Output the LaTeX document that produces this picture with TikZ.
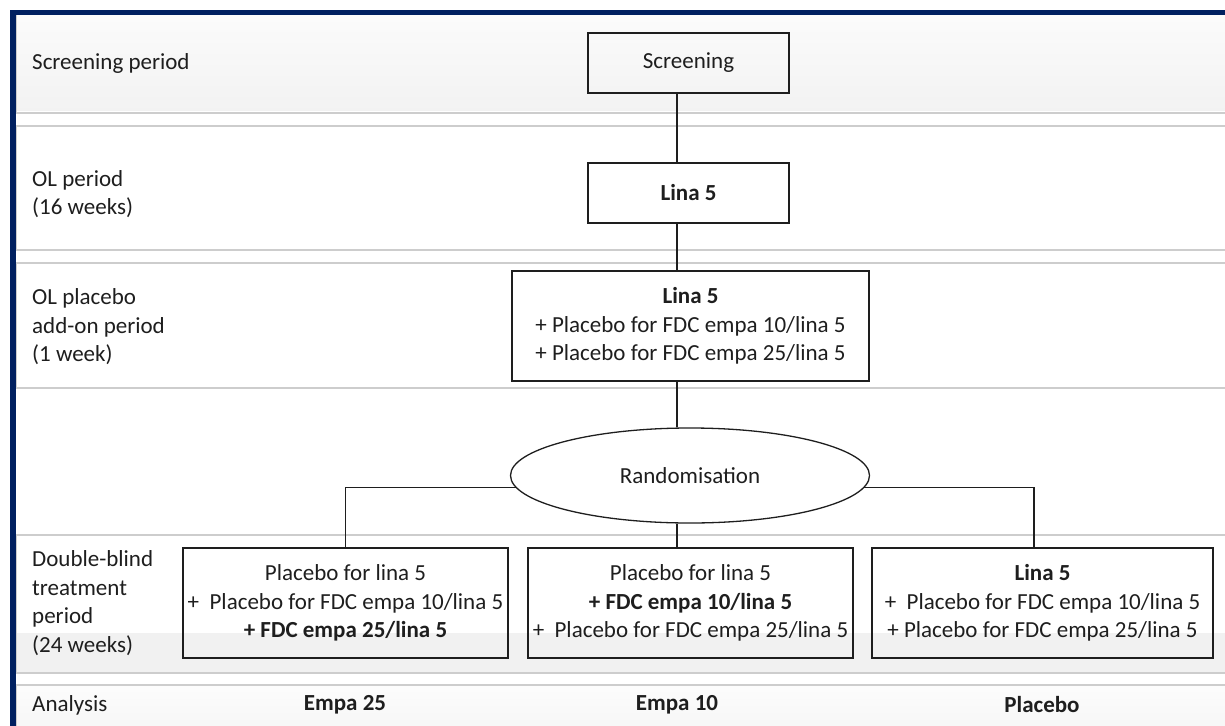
\documentclass[tikz,border=0pt]{standalone}
\usepackage{fontspec}
\setmainfont{Carlito}
\usetikzlibrary{shapes.geometric}
\definecolor{navy}{RGB}{0,32,96}
\definecolor{bandline}{RGB}{205,205,205}
\definecolor{ink}{RGB}{30,30,30}
\begin{document}
\begin{tikzpicture}[x=1pt,y=-1pt,
  every node/.style={font=\fontsize{23}{28.5}\selectfont, text=ink},
  stage/.style={draw=ink, line width=1.3pt, inner sep=0pt, align=center},
  bandlabel/.style={anchor=west, align=left, inner sep=0pt},
  conn/.style={draw=ink, line width=1.3pt},
  band/.style={draw=bandline, line width=1.2pt}]
\useasboundingbox (0,0) rectangle (1225,725);
% bands
\shade[top color=gray!3, bottom color=gray!10] (16,14) rectangle (1226,110);
\draw[band] (16,14) rectangle (1228,113);
\draw[band] (16,126) rectangle (1228,250);
\draw[band] (16,263) rectangle (1228,388);
\fill[gray!11] (16,633) rectangle (1226,673);
\draw[band] (16,535) rectangle (1228,673);
\shade[top color=gray!2, bottom color=gray!7] (16,685) rectangle (1226,730);
\draw[band] (16,685) rectangle (1228,740);
% frame
\draw[navy, line width=5.5pt, line join=miter] (13,730) -- (13,12.5) -- (1230,12.5);
% band labels
\node[bandlabel] (l1) at (32,63) {Screening period};
\node[bandlabel] (l2) at (32,194) {OL period\\(16 weeks)};
\node[bandlabel] (l3) at (32,327) {OL placebo\\add-on period\\(1 week)};
\node[bandlabel] (l5) at (32,603) {Double-blind\\treatment\\period\\(24 weeks)};
\node[bandlabel] (l6) at (32,705) {Analysis};
% stages
\coordinate (cx) at (677,0);
\coordinate (cxC) at (1034,0);
\node[stage, minimum width=201pt, minimum height=60pt] (scr) at (688.5,63) {Screening};
\node[stage, minimum width=201pt, minimum height=60pt] (ol) at (688.5,193) {\textbf{Lina 5}};
\node[stage, minimum width=357pt, minimum height=110pt] (olp) at (690.5,326)
  {\textbf{Lina 5}\\+ Placebo for FDC empa 10/lina 5\\+ Placebo for FDC empa 25/lina 5};
\node[stage, ellipse, minimum width=359pt, minimum height=95pt] (rand) at (690,475.5) {Randomisation};
\node[stage, minimum width=325pt, minimum height=110pt] (bA) at (345.5,603)
  {Placebo for lina 5\\+\ \ Placebo for FDC empa 10/lina 5\\\textbf{+ FDC empa 25/lina 5}};
\node[stage, minimum width=325pt, minimum height=110pt] (bB) at (690.5,603)
  {Placebo for lina 5\\\textbf{+ FDC empa 10/lina 5}\\+\ \ Placebo for FDC empa 25/lina 5};
\node[stage, minimum width=341pt, minimum height=110pt] (bC) at (1042.5,603)
  {\textbf{Lina 5}\\+\ \ Placebo for FDC empa 10/lina 5\\+ Placebo for FDC empa 25/lina 5};
% analysis
\node (aA) at (345,705) {\textbf{Empa 25}};
\node (aB) at (677,705) {\textbf{Empa 10}};
\node (aC) at (1042,705) {\textbf{Placebo}};
% connectors
\draw[conn] (scr.south -| cx) -- (ol.north -| cx);
\draw[conn] (ol.south -| cx) -- (olp.north -| cx);
\draw[conn] (olp.south -| cx) -- (rand.north -| cx);
\draw[conn] (rand.south -| cx) -- (bB.north -| cx);
\draw[conn] (rand.184) -| (bA.north);
\draw[conn] (rand.356) -| (bC.north -| cxC);
\end{tikzpicture}
\end{document}
